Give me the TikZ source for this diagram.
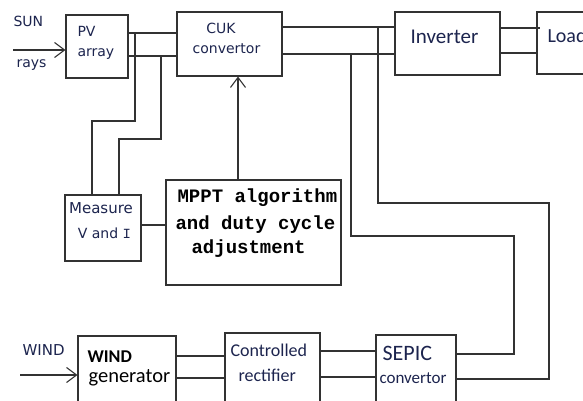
\documentclass[tikz,border=0pt]{standalone}
\usepackage{fontspec}
\setsansfont{DejaVu Sans}
\newfontfamily\calfont{Carlito}
\newfontfamily\courfont{Liberation Mono}
\usetikzlibrary{arrows.meta}
\definecolor{ink}{RGB}{28,36,78}
\definecolor{wire}{RGB}{50,50,50}

\begin{document}
\begin{tikzpicture}[x=1pt,y=-1pt,line width=1.1pt,draw=wire,
    blk/.style={draw=wire,rectangle,inner sep=0pt},
    lbl/.style={text=ink,inner sep=0pt,font=\sffamily\fontsize{14}{16}\selectfont},
    cal/.style={text=ink,inner sep=0pt,font=\calfont\fontsize{#1}{#1}\selectfont},
    mono/.style={text=black,inner sep=0pt,font=\courfont\bfseries\fontsize{19}{19}\selectfont},
    barb/.style={-{Straight Barb[length=10pt,width=15pt]}}]
\useasboundingbox (0,0) rectangle (583,401);
\clip (0,0) rectangle (583,401);
                % blocks
                \node[blk,minimum width=62pt,minimum height=63pt](pv)at(97,46.5){};
                \node[blk,minimum width=105pt,minimum height=64pt](cuk)at(229.5,44){};
                \node[blk,minimum width=105pt,minimum height=63pt](inv)at(447.5,43.5){};
                \node[blk,minimum width=80pt,minimum height=62pt](load)at(577,43){};
                \node[blk,minimum width=76pt,minimum height=66pt](meas)at(103,228){};
                \node[blk,minimum width=175pt,minimum height=105pt](mppt)at(253.5,232.5){};
                \node[blk,minimum width=98pt,minimum height=74pt](gen)at(127,373){};
                \node[blk,minimum width=95pt,minimum height=77pt](rect)at(272.5,371.5){};
                \node[blk,minimum width=80pt,minimum height=75pt](sepic)at(416,372.5){};
                % texts
                \node[lbl,anchor=base west](sun)at(13,27){SUN};
                \node[lbl,anchor=base west](rays)at(16,68){rays};
                \node[lbl,anchor=base west](pvA)at(77,37){PV};
                \node[lbl,anchor=base west](pvB)at(77,57){array};
                \node[lbl,anchor=base](cukA)at(221,34){CUK};
                \node[lbl,anchor=base](cukB)at(226.5,54){convertor};
                \node[cal=21,anchor=base](invT)at(444.5,44){Inverter};
                \node[cal=20,anchor=base west](loadT)at(547,43){Load};
                \node[lbl,anchor=base,font=\sffamily\fontsize{15}{16}\selectfont](measA)at(101,213){Measure};
                \node[lbl,anchor=base](measB)at(104.5,238){V and {\courfont I}};
                \node[mono,anchor=base west](mpA)at(177,202){MPPT algorithm};
                \node[mono,anchor=base west](mpB)at(175,229){and duty cycle};
                \node[mono,anchor=base west](mpC)at(191,253){adjustment};
                \node[lbl,anchor=base west,font=\sffamily\fontsize{15}{16}\selectfont](wind)at(22,355){WIND};
                \node[cal=18,anchor=base west,text=black,font=\calfont\bfseries\fontsize{18}{18}\selectfont](genA)at(87,362){WIND};
                \node[cal=20.5,anchor=base west,text=black](genB)at(88,382){generator};
                \node[cal=18,anchor=base west](recA)at(230,356){Controlled};
                \node[cal=18,anchor=base west](recB)at(238,381){rectifier};
                \node[cal=22,anchor=base west](sepA)at(382,360){SEPIC};
                \node[cal=17,anchor=base west](sepB)at(379,383){convertor};
                % rail ends
                \coordinate(pvHi)at(128,33);
                \coordinate(pvLo)at(128,56);
                \coordinate(cukHi)at(282,27);
                \coordinate(cukLo)at(282,54);
                \coordinate(invHi)at(500,28);
                \coordinate(invLo)at(500,53);
                \coordinate(genHi)at(176,356);
                \coordinate(genLo)at(176,378);
                \coordinate(recHi)at(320,351);
                \coordinate(recLo)at(320,377);
                \coordinate(sepHi)at(456,354);
                \coordinate(sepLo)at(456,379);
                \coordinate(tapV)at(135,121);
                \coordinate(mV)at(92,121);
                \coordinate(tapI)at(161,139);
                \coordinate(mI)at(119,139);
                \coordinate(busA)at(378,203);
                \coordinate(busAr)at(549,203);
                \coordinate(busB)at(351,236);
                \coordinate(busBr)at(514,236);
                \coordinate(mOut)at(141,225);
                \coordinate(ctl)at(238,180);
                \coordinate(sunIn)at(13,50);
                \coordinate(windIn)at(20,375);
                % power lines
                \draw(pvHi)--(pvHi-|cuk.west);
                \draw(pvLo)--(pvLo-|cuk.west);
                \draw(cukHi)--(cukHi-|inv.west);
                \draw(cukLo)--(cukLo-|inv.west);
                \draw(invHi)--([xshift=4pt]invHi-|load.west);
                \draw(invLo)--([xshift=2pt]invLo-|load.west);
                \draw(genHi)--(genHi-|rect.west);
                \draw(genLo)--(genLo-|rect.west);
                \draw(recHi)--(recHi-|sepic.west);
                \draw(recLo)--(recLo-|sepic.west);
                \draw(busA|-cukHi)--(busA)--(busAr)--(busAr|-sepLo)--(sepLo);
                \draw(busB|-cukLo)--(busB)--(busBr)--(busBr|-sepHi)--(sepHi);
                % sensing and control
                \draw(tapV|-pvHi)--(tapV)--(mV)--(mV|-meas.north);
                \draw(tapI|-pvLo)--(tapI)--(mI)--(mI|-meas.north);
                \draw(mOut)--(mOut-|mppt.west);
                \draw[barb](ctl)--(ctl|-cuk.south);
                \draw[barb](sunIn)--(sunIn-|pv.west);
                \draw[barb](windIn)--(windIn-|gen.west);
\end{tikzpicture}
\end{document}
